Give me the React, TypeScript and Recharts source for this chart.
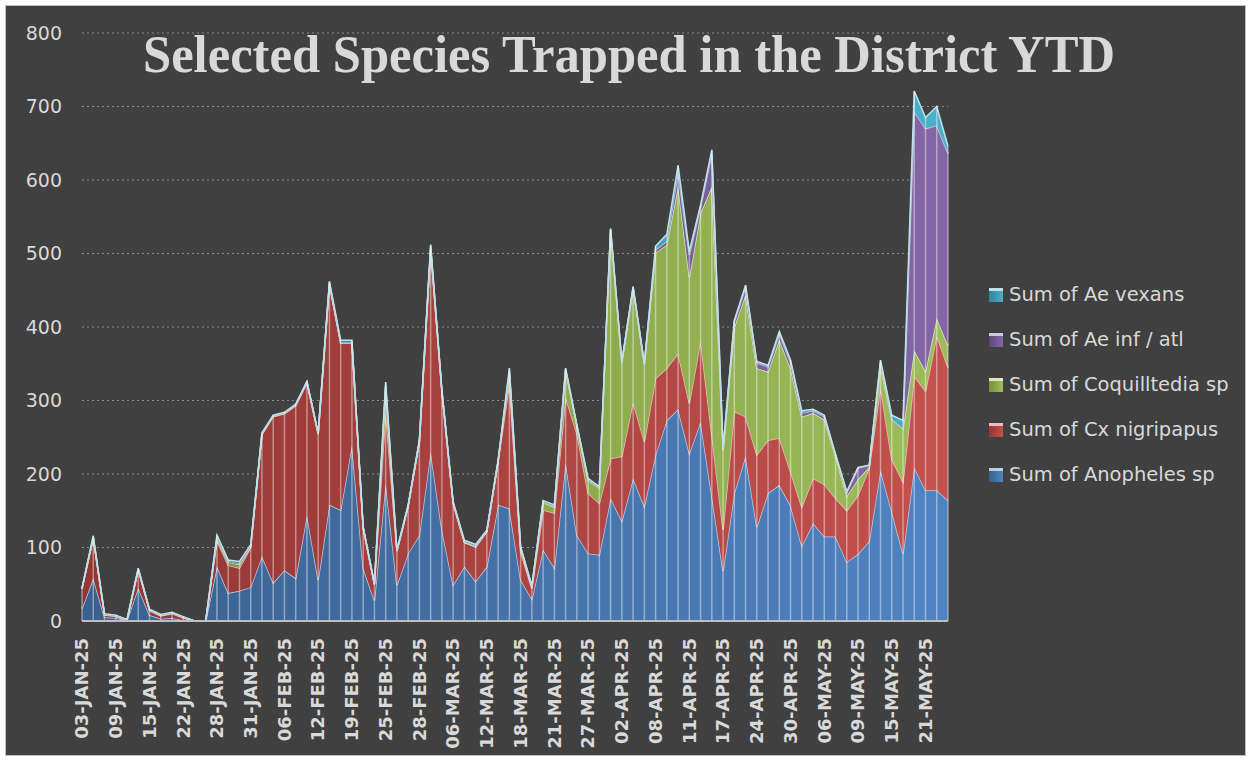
import React from 'react';
import { AreaChart, Area, XAxis, YAxis, CartesianGrid, ReferenceLine } from 'recharts';

// collection dates (only every third one is labelled on the axis)
const dates = [
  '03-JAN-25', '06-JAN-25', '07-JAN-25', '09-JAN-25', '10-JAN-25', '13-JAN-25', '15-JAN-25', '16-JAN-25',
  '17-JAN-25', '22-JAN-25', '23-JAN-25', '24-JAN-25', '28-JAN-25', '29-JAN-25', '30-JAN-25', '31-JAN-25',
  '03-FEB-25', '04-FEB-25', '06-FEB-25', '07-FEB-25', '10-FEB-25', '12-FEB-25', '13-FEB-25', '14-FEB-25',
  '19-FEB-25', '20-FEB-25', '21-FEB-25', '25-FEB-25', '26-FEB-25', '27-FEB-25', '28-FEB-25', '03-MAR-25',
  '04-MAR-25', '06-MAR-25', '07-MAR-25', '10-MAR-25', '12-MAR-25', '13-MAR-25', '14-MAR-25', '18-MAR-25',
  '19-MAR-25', '20-MAR-25', '21-MAR-25', '24-MAR-25', '25-MAR-25', '27-MAR-25', '28-MAR-25', '31-MAR-25',
  '02-APR-25', '03-APR-25', '04-APR-25', '08-APR-25', '09-APR-25', '10-APR-25', '11-APR-25', '14-APR-25',
  '15-APR-25', '17-APR-25', '21-APR-25', '22-APR-25', '24-APR-25', '25-APR-25', '28-APR-25', '30-APR-25',
  '01-MAY-25', '02-MAY-25', '06-MAY-25', '07-MAY-25', '08-MAY-25', '09-MAY-25', '12-MAY-25', '13-MAY-25',
  '15-MAY-25', '16-MAY-25', '19-MAY-25', '21-MAY-25', '22-MAY-25', '23-MAY-25',
];

const anopheles = [
  17, 58, 5, 4, 1, 45, 8, 3, 4, 1, 0, 0, 74, 38, 41, 46,
  88, 52, 69, 58, 144, 56, 158, 151, 239, 72, 28, 187, 49, 92, 117, 230,
  124, 49, 74, 54, 74, 158, 153, 56, 30, 97, 72, 215, 117, 92, 90, 167,
  136, 194, 156, 226, 273, 288, 228, 271, 170, 68, 174, 224, 128, 174, 185, 157,
  102, 133, 115, 115, 80, 91, 109, 205, 149, 91, 209, 178, 178, 164,
];
const cxNigripapus = [
  27, 54, 3, 2, 0, 25, 6, 4, 6, 3, 0, 0, 35, 38, 31, 54,
  166, 226, 213, 235, 180, 198, 300, 227, 139, 54, 22, 98, 46, 64, 127, 276,
  188, 111, 33, 47, 48, 59, 170, 38, 14, 54, 75, 89, 138, 82, 70, 54,
  88, 104, 88, 104, 71, 76, 68, 110, 83, 56, 111, 54, 98, 72, 64, 46,
  53, 61, 71, 52, 70, 80, 99, 113, 71, 98, 124, 135, 210, 181,
];
const coquilltedia = [
  0, 1, 1, 1, 0, 0, 1, 1, 1, 1, 0, 0, 3, 4, 5, 1,
  0, 1, 1, 1, 1, 1, 1, 0, 0, 1, 0, 33, 0, 0, 0, 2,
  0, 0, 0, 0, 0, 0, 15, 5, 2, 10, 8, 37, 10, 17, 21, 311,
  127, 155, 105, 171, 168, 228, 172, 174, 338, 108, 115, 166, 118, 93, 134, 141,
  123, 89, 88, 57, 20, 22, 2, 28, 55, 73, 35, 27, 24, 30,
];
const aeInfAtl = [
  0, 1, 0, 0, 0, 1, 0, 0, 0, 0, 0, 0, 2, 2, 1, 1,
  1, 0, 0, 0, 0, 0, 1, 1, 1, 0, 0, 2, 1, 1, 1, 1,
  1, 1, 1, 1, 1, 1, 2, 1, 1, 1, 1, 1, 1, 1, 1, 1,
  1, 1, 1, 4, 5, 18, 30, 8, 45, 1, 7, 10, 7, 7, 8, 8,
  5, 3, 4, 2, 5, 15, 2, 7, 0, 0, 325, 330, 262, 261,
];
const aeVexans = [
  1, 2, 1, 1, 1, 1, 1, 1, 1, 1, 0, 0, 3, 1, 3, 2,
  1, 1, 1, 1, 1, 1, 2, 3, 3, 1, 1, 5, 1, 1, 1, 3,
  1, 1, 2, 2, 1, 1, 4, 1, 1, 2, 2, 2, 1, 2, 1, 1,
  1, 1, 1, 5, 9, 10, 5, 3, 5, 2, 2, 3, 2, 2, 3, 3,
  3, 2, 2, 1, 1, 1, 0, 2, 5, 11, 28, 15, 26, 10,
];

const yTicks = [0, 100, 200, 300, 400, 500, 600, 700, 800];

const series = [
  { key: 'anopheles', name: 'Sum of Anopheles sp', from: '#39608f', to: '#5083c2', stroke: '#b9cde5' },
  { key: 'cx', name: 'Sum of Cx nigripapus', from: '#923634', to: '#c4514e', stroke: '#ebbcbb' },
  { key: 'coq', name: 'Sum of Coquilltedia sp', from: '#76913b', to: '#9dbd5a', stroke: '#dbe8c0' },
  { key: 'aeinf', name: 'Sum of Ae inf / atl', from: '#5e4878', to: '#8466a6', stroke: '#d0c5de' },
  { key: 'vexans', name: 'Sum of Ae vexans', from: '#2f8399', to: '#4cb0ca', stroke: '#bde2eb' },
];

const data = dates.map((d, i) => ({
  date: d,
  anopheles: anopheles[i],
  cx: cxNigripapus[i],
  coq: coquilltedia[i],
  aeinf: aeInfAtl[i],
  vexans: aeVexans[i],
  total: anopheles[i] + cxNigripapus[i] + coquilltedia[i] + aeInfAtl[i] + aeVexans[i],
}));

const TEXT = '#d9d9d9';
const FONT = '"DejaVu Sans", sans-serif';

function DateTick({ x, y, payload }: { x?: number; y?: number; payload?: { value: string } }) {
  return (
    <text
      transform={`translate(${x},${(y ?? 0) + 9}) rotate(-90)`}
      textAnchor="end"
      dy="0.35em"
      fill={TEXT}
      fontSize={18}
      fontWeight="bold"
      fontFamily={FONT}
    >
      {payload?.value}
    </text>
  );
}

export default function App() {
  const legendItems = [...series].reverse();
  return (
    <div style={{ position: 'absolute', left: 0, top: 0, width: 1251, height: 761, background: '#fff' }}>
      <div style={{
        position: 'absolute', left: 5, top: 5, width: 1241, height: 751,
        background: '#404040', border: '1px solid #bfbfbf', boxSizing: 'border-box',
      }} />
      <div style={{ position: 'absolute', left: 0, top: 0 }}>
        <AreaChart width={1251} height={761} data={data} margin={{ top: 33, right: 303, bottom: 0, left: 42 }}>
          <defs>
            {series.map(s => (
              <linearGradient key={s.key} id={`g-${s.key}`} x1="0" y1="0" x2="1" y2="0">
                <stop offset="0%" stopColor={s.from} />
                <stop offset="100%" stopColor={s.to} />
              </linearGradient>
            ))}
          </defs>
          <CartesianGrid vertical={false} stroke="#8a8a8a" strokeDasharray="2 3" />
          <XAxis
            dataKey="date"
            interval={2}
            height={140}
            tick={<DateTick />}
            tickLine={false}
            axisLine={{ stroke: '#bfbfbf', strokeWidth: 2 }}
          />
          <YAxis
            domain={[0, 800]}
            ticks={yTicks}
            width={40}
            axisLine={false}
            tickLine={false}
            tickMargin={14}
            tick={{ fill: TEXT, fontSize: 19, fontFamily: FONT }}
          />
          {series.map(s => (
            <Area
              key={s.key}
              type="linear"
              dataKey={s.key}
              name={s.name}
              stackId="a"
              fill={`url(#g-${s.key})`}
              fillOpacity={1}
              stroke={s.stroke}
              strokeWidth={1.5}
              dot={false}
              activeDot={false}
              isAnimationActive={false}
            />
          ))}
          {data.map(d => (
            <ReferenceLine
              key={d.date}
              segment={[{ x: d.date, y: 0 }, { x: d.date, y: d.total }]}
              stroke="rgba(255,255,255,0.42)"
              strokeWidth={1.5}
            />
          ))}
        </AreaChart>
      </div>
      <svg width={1251} height={100} style={{ position: 'absolute', left: 0, top: 0, pointerEvents: 'none' }}>
        <text
          x={629}
          y={72}
          textAnchor="middle"
          fill={TEXT}
          fontSize={52}
          fontWeight="bold"
          fontFamily='"Liberation Serif", serif'
          textLength={972}
          lengthAdjust="spacingAndGlyphs"
        >
          Selected Species Trapped in the District YTD
        </text>
      </svg>
      <div style={{ position: 'absolute', left: 989, top: 272 }}>
        {legendItems.map(s => (
          <div key={s.key} style={{ display: 'flex', alignItems: 'center', height: 45, fontFamily: FONT, fontSize: 19.5, color: TEXT }}>
            <span style={{
              width: 14, height: 14, marginRight: 6, boxSizing: 'border-box',
              background: `linear-gradient(90deg, ${s.from}, ${s.to})`, borderTop: `3px solid ${s.stroke}`,
            }} />
            <span style={{ whiteSpace: 'nowrap' }}>{s.name}</span>
          </div>
        ))}
      </div>
    </div>
  );
}
